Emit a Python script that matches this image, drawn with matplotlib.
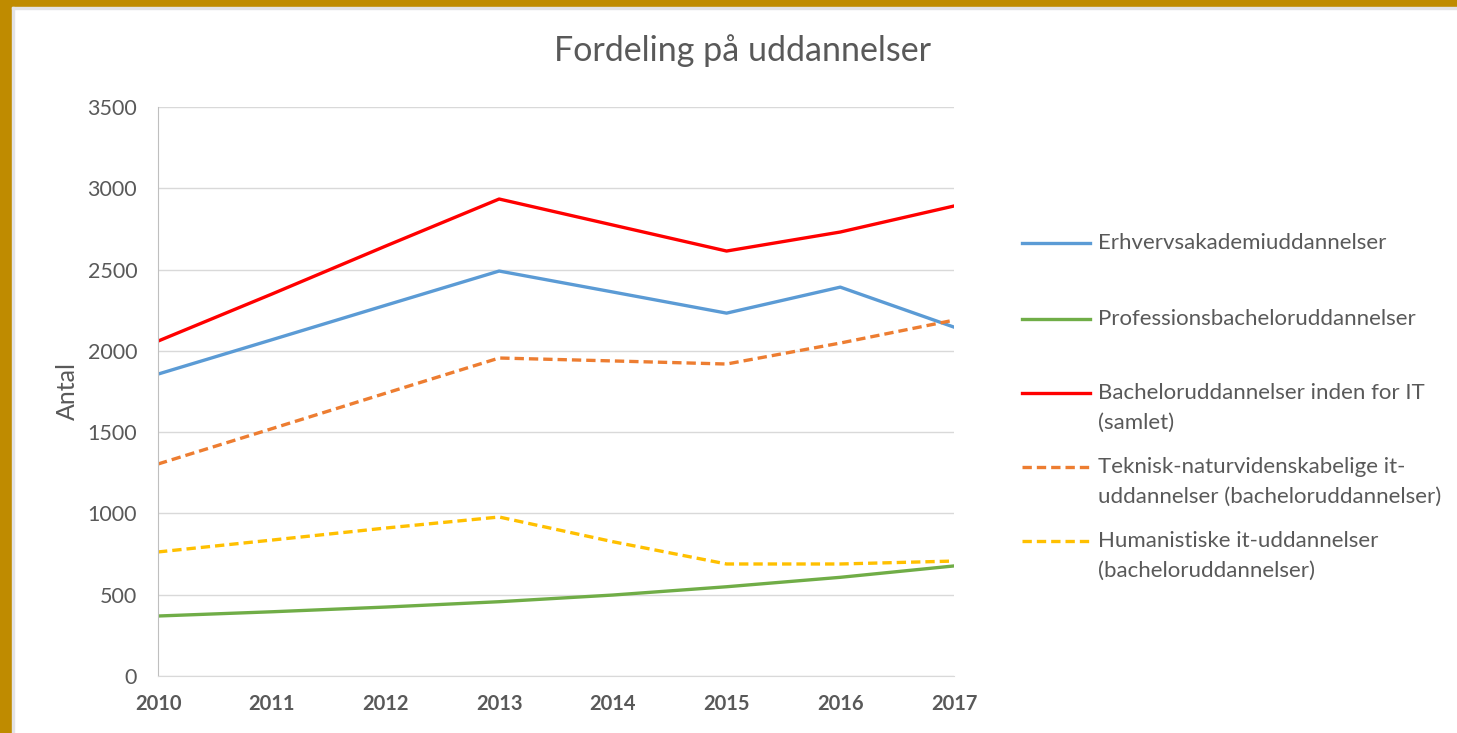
import numpy as np
import matplotlib.pyplot as plt
from matplotlib.lines import Line2D
from matplotlib.patches import Rectangle

plt.rcParams['font.family'] = ['Lato', 'DejaVu Sans']

# Data
years = [2010, 2011, 2012, 2013, 2014, 2015, 2016, 2017]
erhverv = [1857, 2068, 2280, 2491, 2362, 2232, 2392, 2146]
profession = [369, 395, 424, 457, 498, 549, 607, 677]
bachelor_it = [2060, 2349, 2644, 2934, 2774, 2614, 2731, 2891]
teknisk = [1304, 1521, 1739, 1956, 1938, 1919, 2048, 2189]
humanistisk = [763, 836, 910, 978, 826, 689, 689, 707]

labels = [['Erhvervsakademiuddannelser'],
          ['Professionsbacheloruddannelser'],
          ['Bacheloruddannelser inden for IT', '(samlet)'],
          ['Teknisk-naturvidenskabelige it-', 'uddannelser (bacheloruddannelser)'],
          ['Humanistiske it-uddannelser', '(bacheloruddannelser)']]
series = [erhverv, profession, bachelor_it, teknisk, humanistisk]
colors = ['#5B9BD5', '#70AD47', '#FF0000', '#ED7D31', '#FFC000']
styles = ['-', '-', '-', '--', '--']

TXT = '#595959'
DASH = (0, (2.8, 1.5))
W, H = 1457, 733

fig = plt.figure(figsize=(W / 100, H / 100), dpi=100)
fig.patch.set_facecolor('white')

# gold frame on left and top, with a thin grey inner edge
fig.add_artist(Rectangle((0, 0), 12 / W, 1, transform=fig.transFigure,
                         color='#BF8B00', zorder=0))
fig.add_artist(Rectangle((0, 1 - 7 / H), 1, 7 / H, transform=fig.transFigure,
                         color='#BF8B00', zorder=0))
fig.add_artist(Rectangle((12 / W, 0), 2 / W, 1 - 7 / H, transform=fig.transFigure,
                         color='#E3E3E6', zorder=0))
fig.add_artist(Rectangle((12 / W, 1 - 9 / H), 1, 2 / H, transform=fig.transFigure,
                         color='#E3E3E6', zorder=0))

ax = fig.add_axes([158 / W, 1 - 676 / H, (954 - 158) / W, (676 - 107) / H])

for vals, c, ls in zip(series, colors, styles):
    ax.plot(years, vals, color=c, lw=2.4, ls=DASH if ls == '--' else '-')

ax.set_xlim(2010, 2017)
ax.set_ylim(0, 3500)
ax.set_yticks(np.arange(0, 3501, 500))
ax.set_xticks(years)
ax.grid(axis='y', color='#D9D9D9', lw=1)
ax.set_axisbelow(True)
for s in ['top', 'right']:
    ax.spines[s].set_visible(False)
ax.spines['left'].set_color('#BFBFBF')
ax.spines['bottom'].set_color('#D9D9D9')
ax.tick_params(length=0)
ax.tick_params(axis='y', labelsize=15.5, labelcolor=TXT, pad=15)
ax.tick_params(axis='x', labelsize=14.5, labelcolor=TXT, pad=13)
for t in ax.get_xticklabels():
    t.set_fontweight('bold')
ax.set_ylabel('Antal', fontsize=18, color=TXT, labelpad=6)

fig.text(742 / W, 1 - 51 / H, 'Fordeling på uddannelser', fontsize=24.5,
         color=TXT, ha='center', va='center')

# legend, placed by hand to follow the reference spacing
leg_y = [243, 319, 393, 467, 541]
for lines, c, ls, y in zip(labels, colors, styles, leg_y):
    yf = 1 - y / H
    fig.add_artist(Line2D([1022 / W, 1090 / W], [yf, yf], color=c, lw=2.4,
                          ls=DASH if ls == '--' else '-',
                          transform=fig.transFigure))
    for i, txt in enumerate(lines):
        fig.text(1098 / W, 1 - (y + 30 * i) / H, txt, fontsize=16, color=TXT,
                 ha='left', va='center')

fig.savefig('out.png', dpi=100)
